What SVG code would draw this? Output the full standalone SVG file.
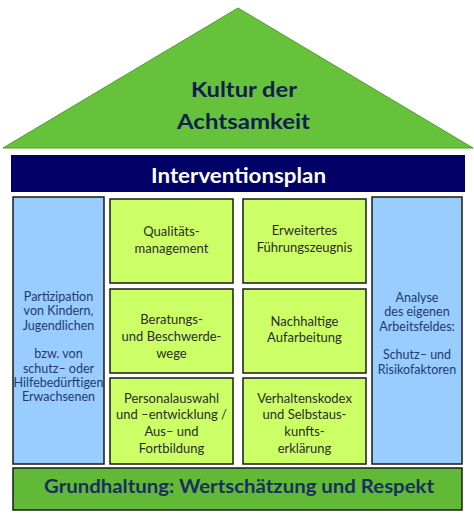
<svg xmlns="http://www.w3.org/2000/svg" width="474" height="519" viewBox="0 0 474 519">
<style>
.t{font-family:Lato,"Open Sans","DejaVu Sans",sans-serif;text-anchor:middle}
.b{font-weight:bold}
.box{fill:#ccff66;stroke:#1a1a1a;stroke-width:1.5}
.col{fill:#99ccff;stroke:#1a1a1a;stroke-width:1.5}
.gt{font-size:13px;fill:#2b2b2b}
.ct{font-size:12.5px;fill:#1f3a70}
</style>
<rect width="474" height="519" fill="#ffffff"/>
<g id="roof">
<polygon points="238,8 473,148 3,148" fill="#66c23a" stroke="#4e9e2c" stroke-width="1"/>
<text class="t b" x="244" y="97" font-size="21.5" fill="#0f2050" textLength="106" lengthAdjust="spacingAndGlyphs">Kultur der</text>
<text class="t b" x="243.5" y="129" font-size="21.5" fill="#0f2050" textLength="133" lengthAdjust="spacingAndGlyphs">Achtsamkeit</text>
</g>
<g id="interventionsplan">
<rect x="11" y="155" width="454" height="37" fill="#000066"/>
<text class="t b" x="238.5" y="183" font-size="20" fill="#ffffff" textLength="175" lengthAdjust="spacingAndGlyphs">Interventionsplan</text>
</g>
<g id="partizipation">
<rect class="col" x="13" y="197" width="91" height="267"/>
<text class="t ct" x="58.5" y="301">Partizipation</text>
<text class="t ct" x="58.5" y="315.3">von Kindern,</text>
<text class="t ct" x="58.5" y="329.6">Jugendlichen</text>
<text class="t ct" x="58.5" y="358.2">bzw. von</text>
<text class="t ct" x="58.5" y="372.5">schutz– oder</text>
<text class="t ct" x="58.5" y="386.8">Hilfebedürftigen</text>
<text class="t ct" x="58.5" y="401.1">Erwachsenen</text>
</g>
<g id="qualitaetsmanagement">
<rect class="box" x="110" y="199" width="123" height="84"/>
<text class="t gt" x="171.5" y="236">Qualitäts-</text>
<text class="t gt" x="171.5" y="253">management</text>
</g>
<g id="beratung">
<rect class="box" x="110" y="289" width="123" height="84"/>
<text class="t gt" x="171.5" y="324">Beratungs-</text>
<text class="t gt" x="171.5" y="341">und Beschwerde-</text>
<text class="t gt" x="171.5" y="358">wege</text>
</g>
<g id="personalauswahl">
<rect class="box" x="110" y="378" width="123" height="86"/>
<text class="t gt" x="171.5" y="402.5">Personalauswahl</text>
<text class="t gt" x="171.5" y="419.2">und –entwicklung /</text>
<text class="t gt" x="171.5" y="435.9">Aus– und</text>
<text class="t gt" x="171.5" y="452.6">Fortbildung</text>
</g>
<g id="fuehrungszeugnis">
<rect class="box" x="243" y="199" width="123" height="84"/>
<text class="t gt" x="304.5" y="235">Erweitertes</text>
<text class="t gt" x="304.5" y="252">Führungszeugnis</text>
</g>
<g id="aufarbeitung">
<rect class="box" x="243" y="289" width="123" height="84"/>
<text class="t gt" x="304.5" y="325.5">Nachhaltige</text>
<text class="t gt" x="304.5" y="342">Aufarbeitung</text>
</g>
<g id="verhaltenskodex">
<rect class="box" x="243" y="378" width="123" height="86"/>
<text class="t gt" x="304.5" y="402.5">Verhaltenskodex</text>
<text class="t gt" x="304.5" y="419.2">und Selbstaus-</text>
<text class="t gt" x="304.5" y="435.9">kunfts-</text>
<text class="t gt" x="304.5" y="452.6">erklärung</text>
</g>
<g id="analyse">
<rect class="col" x="372" y="197" width="90" height="267"/>
<text class="t ct" x="417" y="302">Analyse</text>
<text class="t ct" x="417" y="316.3">des eigenen</text>
<text class="t ct" x="417" y="330.6">Arbeitsfeldes:</text>
<text class="t ct" x="417" y="359.2">Schutz– und</text>
<text class="t ct" x="417" y="373.5">Risikofaktoren</text>
</g>
<g id="grundhaltung">
<rect x="13" y="468" width="449" height="42" fill="#62b935" stroke="#1a1a1a" stroke-width="1.5"/>
<text class="t b" x="239" y="493" font-size="18.5" fill="#173060" textLength="390" lengthAdjust="spacingAndGlyphs">Grundhaltung: Wertschätzung und Respekt</text>
</g>
</svg>
